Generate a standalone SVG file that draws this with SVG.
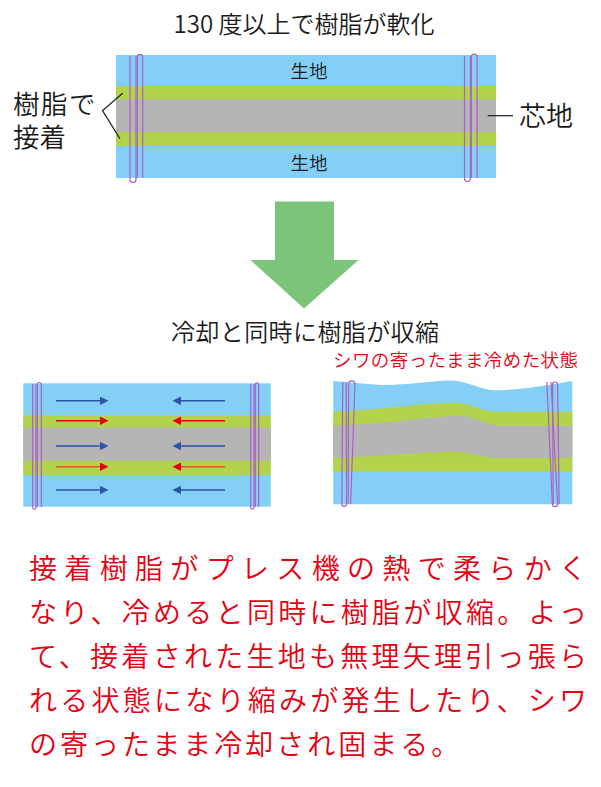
<svg xmlns="http://www.w3.org/2000/svg" width="601" height="787" viewBox="0 0 601 787">
<defs>
<style>
.blue{fill:#84cff5}
.green{fill:#b3d34c}
.gray{fill:#b5b5b5}
.st{fill:none;stroke:#a862c6;stroke-width:1.2}
.jp{font-family:"Noto Sans CJK JP","Noto Sans",sans-serif;font-weight:350}
.blk{fill:#1a1a1a}
.red{fill:#e60012}
.lead{stroke:#1a1a1a;stroke-width:1.2;fill:none}
.ab{stroke:#2c55a6;stroke-width:1.6;fill:none}
.ar{stroke:#e60012;stroke-width:1.6;fill:none}
</style>
<marker id="mb" markerUnits="userSpaceOnUse" markerWidth="10" markerHeight="10" refX="0" refY="4.2" orient="auto"><path d="M0,0 L8.5,4.2 L0,8.4 Z" fill="#2c55a6"/></marker>
<marker id="mr" markerUnits="userSpaceOnUse" markerWidth="10" markerHeight="10" refX="0" refY="4.2" orient="auto"><path d="M0,0 L8.5,4.2 L0,8.4 Z" fill="#e60012"/></marker>
</defs>
<rect width="601" height="787" fill="#fff"/>

<g id="title">
<text class="jp blk" x="304" y="33" font-size="24" text-anchor="middle">130 度以上で樹脂が軟化</text>
</g>

<g id="diagram-before">
<rect class="blue" x="116" y="55" width="380" height="123"/>
<rect class="green" x="116" y="86" width="380" height="60"/>
<rect class="gray" x="116" y="99.5" width="380" height="32.5"/>
<path class="st" d="M130,56 V179.5 A3,3 0 0 0 136,179.5 V56"/>
<path class="st" d="M137.3,178 V57 A2.7,2.7 0 0 1 142.7,57 V178"/>
<path class="st" d="M464.5,56 V178.5 A3,3 0 0 0 470.5,178.5 V56"/>
<path class="st" d="M471.3,178 V57 A2.9,2.9 0 0 1 477.1,57 V178"/>
<text class="jp blk" x="309" y="78" font-size="18.5" text-anchor="middle">生地</text>
<text class="jp blk" x="309" y="170" font-size="18.5" text-anchor="middle">生地</text>
</g>

<g id="label-adhesive">
<text class="jp blk" font-size="26.5"><tspan x="13" y="114" letter-spacing="1.5">樹脂で</tspan><tspan x="13" y="147">接着</tspan></text>
</g>

<g id="label-core">
<text class="jp blk" x="519" y="126" font-size="27">芯地</text>
</g>

<g id="big-arrow">
<path d="M275,201.5 H334 V260 H358.5 L304,308.5 L250.5,260 H275 Z" fill="#7cc47a"/>
</g>

<g id="caption-cool">
<text class="jp blk" x="305" y="341" font-size="24" text-anchor="middle" textLength="268" lengthAdjust="spacing">冷却と同時に樹脂が収縮</text>
</g>

<g id="diagram-shrink">
<rect class="blue" x="23.3" y="383.3" width="247.4" height="123.4"/>
<rect class="green" x="23.3" y="415" width="247.4" height="60"/>
<rect class="gray" x="23.3" y="427.7" width="247.4" height="33"/>
<path class="st" d="M32.7,384 V507.5 A1.65,1.65 0 0 0 36,507.5 V384"/>
<path class="st" d="M37.3,507 V384.5 A2,2 0 0 1 41.3,384.5 V507"/>
<path class="st" d="M250.7,384 V507.5 A1.65,1.65 0 0 0 254,507.5 V384"/>
<path class="st" d="M255.3,507 V384.5 A1.7,1.7 0 0 1 258.7,384.5 V507"/>
</g>

<g id="label-wrinkle">
<text class="jp red" x="333" y="367" font-size="18.5" textLength="245" lengthAdjust="spacing">シワの寄ったまま冷めた状態</text>
</g>

<g id="diagram-wrinkled">
<path class="blue" d="M333.3,381 C360,383 375,385 387,385 C405,385 430,381 450,380.5 C462,380 472,386 490,390 C505,391.5 540,387 572.3,381 V504.3 H333.3 Z"/>
<path class="green" d="M333.3,411.7 C380,410 420,403 456,403 C470,403 478,411 497,411.7 H572.3 V471.7 H333.3 Z"/>
<path class="gray" d="M333.3,425.7 C390,424 430,416 461,416 C475,416 485,425 500,425.7 H572.3 V457.7 H493 C480,457 470,451.7 453,451.7 C425,451.7 390,456 333.3,457.7 Z"/>
<path class="st" d="M342.8,382 L341.8,504 A2.4,2.4 0 0 0 346.6,504 L346.2,382"/>
<path class="st" d="M348.2,504 L348.6,384 A3.2,3.2 0 0 1 355,384 L350.6,504"/>
<path class="st" d="M546.8,382 L552.4,504 A2.6,2.6 0 0 0 557.6,504 L551,382"/>
<path class="st" d="M553.2,504 L552.6,384.5 A2.5,2.5 0 0 1 557.6,384.5 L559.2,504"/>
</g>

<g id="connectors">
<path class="lead" d="M122.7,93.3 L102.5,110.5 L120,138.7"/>
<path class="lead" d="M487.7,115.7 H513"/>
<path class="ab" d="M56,400.7 H100" marker-end="url(#mb)"/>
<path class="ar" d="M56,420.7 H100" marker-end="url(#mr)"/>
<path class="ab" d="M56,446 H100" marker-end="url(#mb)"/>
<path class="ar" d="M56,466.7 H100" marker-end="url(#mr)" style="stroke:#e2552a"/>
<path class="ab" d="M56,490 H100" marker-end="url(#mb)"/>
<path class="ab" d="M225,400.7 H181" marker-end="url(#mb)"/>
<path class="ar" d="M225,420.7 H181" marker-end="url(#mr)"/>
<path class="ab" d="M225,446 H181" marker-end="url(#mb)"/>
<path class="ar" d="M225,466.7 H181" marker-end="url(#mr)" style="stroke:#e2552a"/>
<path class="ab" d="M225,490 H181" marker-end="url(#mb)"/>
</g>

<g id="body-text" class="jp red" font-size="28">
<text x="29" y="579" textLength="558" lengthAdjust="spacing">接着樹脂がプレス機の熱で柔らかく</text>
<text x="29" y="623" textLength="558" lengthAdjust="spacing">なり、冷めると同時に樹脂が収縮。よっ</text>
<text x="29" y="667" textLength="558" lengthAdjust="spacing">て、接着された生地も無理矢理引っ張ら</text>
<text x="29" y="711" textLength="558" lengthAdjust="spacing">れる状態になり縮みが発生したり、シワ</text>
<text x="29" y="755" letter-spacing="3">の寄ったまま冷却され固まる。</text>
</g>
</svg>
